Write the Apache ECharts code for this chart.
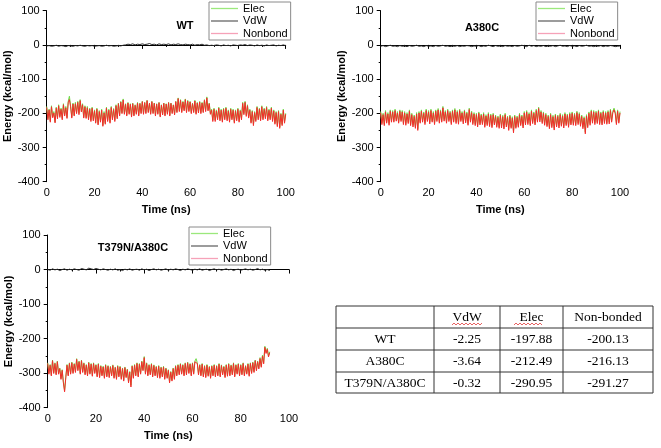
<!DOCTYPE html>
<html>
<head>
<meta charset="utf-8">
<script src="https://cdn.jsdelivr.net/npm/echarts@6/dist/echarts.min.js"></script>
<style>html,body{margin:0;padding:0;background:#fff}#c{width:661px;height:448px}</style>
</head>
<body>
<div id="c"></div>
<script>
// ---------- data ----------
var panelTitles = ['WT', 'A380C', 'T379N/A380C'];
var seriesNames = ['Elec', 'VdW', 'Nonbond'];
var xTicks = [0, 20, 40, 60, 80, 100];
var yTicks = [-400, -300, -200, -100, 0, 100];

// WT (Elec/Nonbond every 0.5 ns, VdW every 1 ns)
var wtElec = [
-180,-215,-188,-222,-178,-210,-195,-225,-182,-212,
-175,-208,-185,-215,-172,-205,-180,-212,-165,-150,
-178,-210,-170,-205,-168,-198,-165,-200,-160,-192,
-172,-210,-178,-212,-180,-215,-185,-220,-182,-218,
-190,-225,-185,-230,-192,-222,-188,-235,-195,-228,
-182,-220,-188,-225,-180,-215,-186,-220,-175,-212,
-170,-205,-165,-198,-158,-200,-172,-205,-168,-200,
-172,-208,-170,-205,-175,-200,-168,-205,-170,-198,
-165,-200,-168,-198,-162,-195,-170,-200,-165,-198,
-170,-205,-172,-200,-168,-208,-175,-202,-170,-205,
-172,-200,-168,-205,-170,-198,-175,-202,-165,-195,
-155,-192,-160,-195,-165,-190,-158,-195,-162,-192,
-165,-198,-170,-195,-162,-200,-168,-196,-165,-198,
-168,-195,-160,-192,-152,-190,-170,-200,-188,-220,
-185,-220,-190,-215,-182,-218,-188,-222,-185,-215,
-182,-218,-190,-222,-185,-215,-188,-225,-190,-218,
-185,-222,-190,-215,-168,-200,-165,-205,-175,-210,
-188,-225,-192,-232,-195,-220,-180,-215,-185,-218,
-178,-215,-185,-212,-180,-218,-188,-215,-182,-220,
-190,-228,-195,-235,-192,-240,-200,-232,-188,-225,
-200];
var wtNonbond = [
-183,-219,-190,-226,-181,-213,-199,-228,-185,-216,
-178,-212,-188,-219,-175,-208,-184,-215,-169,-160,
-181,-214,-173,-208,-172,-201,-168,-204,-163,-196,
-175,-214,-181,-215,-184,-219,-188,-224,-185,-222,
-193,-229,-188,-234,-195,-226,-191,-238,-199,-232,
-185,-224,-191,-229,-183,-219,-189,-224,-178,-216,
-172,-208,-167,-201,-161,-203,-174,-208,-170,-203,
-174,-211,-172,-208,-177,-203,-170,-208,-172,-201,
-166,-203,-169,-201,-163,-198,-171,-203,-166,-201,
-171,-208,-173,-203,-169,-211,-176,-205,-171,-208,
-173,-203,-169,-208,-171,-201,-176,-205,-166,-198,
-157,-195,-162,-198,-167,-193,-160,-198,-164,-195,
-167,-201,-172,-198,-164,-203,-170,-199,-167,-201,
-170,-198,-162,-195,-155,-193,-172,-203,-191,-224,
-188,-224,-193,-219,-185,-222,-191,-226,-188,-219,
-185,-222,-193,-226,-188,-219,-191,-229,-193,-222,
-188,-226,-193,-219,-171,-204,-168,-209,-178,-214,
-191,-229,-195,-236,-198,-224,-183,-219,-188,-222,
-181,-219,-188,-216,-183,-222,-191,-219,-185,-224,
-193,-232,-198,-239,-195,-244,-203,-236,-191,-229,
-203];
var wtVdw = [
-3,-2,-4,-3,-1,-4,-2,-3,-5,-2,
-3,-4,-2,-3,-1,-3,-4,-2,-3,-2,
-4,-3,-2,-4,-3,-1,-3,-2,-4,-3,
-2,-3,-1,0,2,1,3,0,2,1,
3,1,2,4,1,2,0,3,1,2,
1,3,0,2,1,3,1,0,2,1,
0,2,-1,1,0,2,-1,0,-2,-1,
-2,0,-1,-3,0,-2,-1,-3,0,-1,
-2,0,-1,1,-2,0,-1,-3,0,-2,
-1,-3,0,-2,-1,0,-3,-1,-2,0,
-2];

// A380C
var a380Elec = [
-195,-228,-200,-232,-192,-225,-198,-230,-190,-222,
-192,-222,-188,-218,-195,-225,-190,-220,-192,-228,
-195,-230,-198,-226,-190,-232,-200,-235,-205,-240,
-198,-245,-195,-225,-190,-222,-196,-228,-188,-220,
-192,-226,-188,-222,-195,-228,-190,-220,-186,-225,
-190,-222,-180,-218,-192,-225,-188,-220,-194,-228,
-190,-222,-186,-225,-192,-228,-188,-220,-195,-226,
-190,-224,-196,-230,-185,-222,-194,-228,-198,-232,
-200,-235,-196,-230,-202,-228,-198,-236,-204,-232,
-198,-234,-202,-238,-200,-230,-205,-236,-208,-240,
-202,-238,-206,-242,-200,-235,-208,-245,-205,-240,
-210,-252,-205,-240,-208,-236,-200,-232,-205,-238,
-195,-230,-192,-228,-198,-232,-190,-225,-196,-230,
-188,-222,-182,-220,-192,-226,-196,-230,-200,-235,
-205,-240,-200,-238,-206,-244,-202,-236,-205,-238,
-200,-234,-204,-238,-198,-232,-202,-236,-198,-230,
-196,-230,-200,-232,-194,-228,-198,-234,-205,-240,
-210,-255,-204,-238,-196,-230,-190,-225,-192,-228,
-194,-226,-190,-228,-196,-230,-192,-225,-195,-228,
-192,-226,-188,-222,-194,-185,-196,-228,-190,-225,
-195];
var a380Nonbond = [
-199,-233,-204,-236,-196,-229,-202,-235,-194,-226,
-196,-226,-192,-223,-199,-229,-194,-224,-196,-233,
-199,-235,-202,-230,-194,-236,-204,-240,-209,-244,
-202,-250,-199,-229,-194,-226,-200,-233,-192,-224,
-196,-231,-192,-226,-199,-233,-194,-224,-190,-229,
-194,-226,-184,-223,-196,-229,-192,-224,-198,-233,
-194,-226,-190,-230,-196,-232,-192,-224,-199,-231,
-194,-228,-200,-235,-189,-226,-198,-233,-202,-236,
-204,-240,-200,-234,-206,-233,-202,-241,-208,-236,
-202,-239,-206,-242,-204,-234,-209,-241,-212,-244,
-206,-243,-210,-246,-204,-240,-212,-250,-209,-244,
-214,-257,-209,-244,-212,-241,-204,-236,-209,-243,
-199,-234,-196,-233,-202,-236,-194,-230,-200,-234,
-192,-226,-186,-225,-196,-230,-200,-235,-204,-239,
-209,-245,-204,-242,-210,-249,-206,-240,-209,-243,
-204,-238,-208,-243,-202,-236,-206,-241,-202,-234,
-200,-235,-204,-236,-198,-233,-202,-238,-209,-245,
-214,-260,-208,-242,-200,-235,-194,-229,-196,-233,
-198,-230,-194,-233,-200,-234,-196,-230,-199,-232,
-196,-231,-192,-226,-198,-190,-200,-233,-194,-229,
-199];
var a380Vdw = [
-4,-2,-5,-3,-1,-4,-3,-5,-2,-4,
-3,-5,-2,-4,-3,-1,-4,-3,-5,-2,
-4,-3,-5,-2,-4,-3,-1,-4,-3,-5,
-3,-4,-2,-5,-3,-4,-2,-3,-5,-3,
-4,-2,-5,-3,-4,-1,-3,-5,-2,-4,
-3,-5,-2,-4,-3,-5,-2,-4,-3,-1,
-3,-5,-1,-4,-2,-5,-3,-4,-2,-5,
-3,-4,-2,-5,-3,-1,-4,-3,-5,-2,
-4,-3,-5,-2,-4,-3,-1,-4,-3,-5,
-3,-4,-2,-5,-3,-4,-2,-3,-5,-4,
-3];

// T379N/A380C (to ~92 ns)
var dmElec = [
-270,-300,-275,-305,-262,-298,-270,-302,-265,-300,
-285,-315,-290,-325,-350,-310,-275,-305,-270,-300,
-268,-298,-272,-295,-258,-290,-265,-300,-262,-295,
-270,-302,-275,-305,-268,-300,-272,-306,-270,-298,
-275,-308,-272,-310,-278,-305,-280,-312,-275,-308,
-278,-310,-280,-305,-276,-312,-282,-315,-278,-308,
-280,-315,-285,-320,-282,-310,-288,-325,-295,-335,
-278,-312,-275,-305,-270,-308,-272,-300,-265,-290,
-252,-300,-270,-305,-275,-302,-272,-308,-276,-305,
-280,-310,-278,-312,-282,-308,-280,-315,-285,-312,
-290,-325,-295,-320,-285,-315,-278,-305,-275,-302,
-272,-300,-275,-305,-270,-302,-268,-298,-272,-305,
-270,-300,-265,-258,-270,-302,-275,-305,-272,-308,
-278,-310,-275,-306,-280,-312,-278,-305,-275,-308,
-278,-305,-272,-308,-276,-302,-280,-310,-275,-306,
-272,-305,-276,-302,-270,-308,-275,-300,-272,-305,
-275,-302,-270,-305,-278,-300,-272,-306,-270,-298,
-268,-295,-262,-290,-265,-285,-255,-280,-248,-270,
-222,-240,-228,-250,-238];
var dmNonbond = [
-272,-303,-277,-308,-264,-301,-272,-305,-267,-303,
-287,-318,-292,-328,-354,-313,-277,-308,-272,-303,
-270,-301,-274,-298,-260,-293,-267,-303,-264,-298,
-272,-305,-277,-308,-270,-303,-274,-309,-272,-301,
-277,-311,-274,-313,-280,-308,-282,-315,-277,-311,
-280,-313,-282,-308,-278,-315,-284,-318,-280,-311,
-282,-318,-287,-323,-284,-313,-290,-328,-297,-340,
-280,-315,-277,-308,-272,-311,-274,-303,-267,-293,
-255,-303,-272,-308,-277,-305,-274,-311,-278,-308,
-282,-313,-280,-315,-284,-311,-282,-318,-287,-315,
-292,-328,-297,-323,-287,-318,-280,-308,-277,-305,
-274,-303,-277,-308,-272,-305,-270,-301,-274,-308,
-272,-303,-267,-262,-272,-305,-277,-308,-274,-311,
-280,-313,-277,-309,-282,-315,-280,-308,-277,-311,
-280,-308,-274,-311,-278,-305,-282,-313,-277,-309,
-274,-308,-278,-305,-272,-311,-277,-303,-274,-308,
-277,-305,-272,-308,-280,-303,-274,-309,-272,-301,
-270,-298,-264,-293,-267,-288,-258,-283,-251,-273,
-225,-243,-231,-253,-241];
var dmVdw = [
0,-2,2,-1,1,-3,0,2,-2,1,
-1,2,0,-2,3,1,-1,4,2,0,
3,1,-1,2,0,-2,1,-1,2,-2,
0,-3,1,-1,2,-2,0,1,-2,2,
-1,1,-3,0,2,-1,1,-2,0,2,
-2,1,-1,2,0,-3,1,-1,2,0,
-2,1,-1,2,-2,0,1,-3,0,2,
-1,1,-2,0,2,-1,1,-3,0,1,
-2,0,2,-1,1,-2,0,3,-1,1,
-2,0,-3];

// table
var tableHeader = ['', 'VdW', 'Elec', 'Non-bonded'];
var tableRowNames = ['WT', 'A380C', 'T379N/A380C'];
var tableVdw = ['-2.25', '-3.64', '-0.32'];
var tableElec = ['-197.88', '-212.49', '-290.95'];
var tableNonbond = ['-200.13', '-216.13', '-291.27'];

// ---------- build ----------
function pairs(vals, step) {
  return vals.map(function (v, i) { return [i * step, v]; });
}
var panelData = [
  [wtElec, wtVdw, wtNonbond],
  [a380Elec, a380Vdw, a380Nonbond],
  [dmElec, dmVdw, dmNonbond]
];
var steps = [0.5, 1, 0.5];
var lineColors = ['#6fdc4a', '#2a2a2a', '#f42a2a'];
var legendColors = ['#9be87c', '#666666', '#f6a2b8'];

var grids = [
  {left: 46.7, top: 10.7, width: 239, height: 171},
  {left: 380.7, top: 10.7, width: 239.3, height: 171},
  {left: 47.7, top: 235, width: 241.3, height: 172.7}
];
var legendPos = [
  {left: 209, top: 2},
  {left: 536, top: 2},
  {left: 189, top: 227}
];
var titlePos = [
  {left: 180, top: 15},
  {left: 477, top: 17},
  {left: 128, top: 237}
];

var FONT = 'Liberation Sans, Arial, sans-serif';
var xAxes = [], yAxes = [], series = [], legends = [], titles = [];
grids.forEach(function (g, i) {
  xAxes.push({
    type: 'value', gridIndex: i, min: 0, max: 100, interval: 20,
    name: 'Time (ns)', nameLocation: 'middle', nameGap: 23,
    nameTextStyle: {fontFamily: FONT, fontWeight: 'bold', fontSize: 11, color: '#000'},
    axisLine: {lineStyle: {color: '#000', width: 1}},
    axisTick: {show: true, length: 4, lineStyle: {color: '#000'}},
    minorTick: {show: true, splitNumber: 2, length: 2, lineStyle: {color: '#000'}},
    axisLabel: {fontFamily: FONT, fontSize: 11, color: '#000', margin: 6},
    splitLine: {show: false}
  });
  yAxes.push({
    type: 'value', gridIndex: i, min: -400, max: 100, interval: 100,
    name: 'Energy (kcal/mol)', nameLocation: 'middle', nameGap: 33,
    nameTextStyle: {fontFamily: FONT, fontWeight: 'bold', fontSize: 11, color: '#000'},
    axisLine: {show: true, lineStyle: {color: '#000', width: 1}},
    axisTick: {show: true, length: 4, lineStyle: {color: '#000'}},
    minorTick: {show: true, splitNumber: 2, length: 2, lineStyle: {color: '#000'}},
    axisLabel: {fontFamily: FONT, fontSize: 11, color: '#000', margin: 7},
    splitLine: {show: false}
  });
  seriesNames.forEach(function (nm, k) {
    series.push({
      type: 'line', name: nm, xAxisIndex: i, yAxisIndex: i,
      data: pairs(panelData[i][k], steps[k]),
      symbol: 'none', showSymbol: false, smooth: false, z: 2 + k,
      lineStyle: {color: lineColors[k], width: 1},
      itemStyle: {color: lineColors[k]}
    });
  });
  legends.push({
    left: legendPos[i].left, top: legendPos[i].top, orient: 'vertical',
    padding: [1, 3, 1, 2], itemGap: 1.5, itemWidth: 27, itemHeight: 1.3,
    icon: 'rect',
    borderColor: '#8a8a8a', borderWidth: 1, backgroundColor: '#fff',
    selectedMode: false,
    textStyle: {fontFamily: FONT, fontSize: 11, lineHeight: 11, color: '#000'},
    data: seriesNames.map(function (nm, k) {
      return {name: nm, icon: 'rect', itemStyle: {color: legendColors[k], borderWidth: 0}};
    })
  });
  titles.push({
    text: panelTitles[i], left: titlePos[i].left, top: titlePos[i].top, textAlign: 'center',
    textStyle: {fontFamily: FONT, fontWeight: 'bold', fontSize: 11, color: '#000'}
  });
});

// table graphics
var colX = [336, 434, 500, 563, 653];
var rowY = [306, 328, 350, 372, 393];
var graphics = [];
var lineStyleT = {stroke: '#333', lineWidth: 1};
colX.forEach(function (x) {
  graphics.push({type: 'line', shape: {x1: x, y1: rowY[0], x2: x, y2: rowY[rowY.length - 1]}, style: lineStyleT});
});
rowY.forEach(function (y) {
  graphics.push({type: 'line', shape: {x1: colX[0], y1: y, x2: colX[colX.length - 1], y2: y}, style: lineStyleT});
});
var tableRows = [tableHeader].concat(tableRowNames.map(function (r, j) {
  return [r, tableVdw[j], tableElec[j], tableNonbond[j]];
}));
tableRows.forEach(function (row, r) {
  row.forEach(function (txt, c) {
    if (!txt) return;
    graphics.push({
      type: 'text',
      x: (colX[c] + colX[c + 1]) / 2, y: (rowY[r] + rowY[r + 1]) / 2 + 0.5,
      style: {text: txt, fill: '#000', font: '13.5px "Liberation Serif", "Times New Roman", serif',
              textAlign: 'center', textVerticalAlign: 'middle'}
    });
  });
});
// red wavy spell-check underline under header words
[[452, 482], [514, 543]].forEach(function (seg) {
  var pts = [];
  for (var x = seg[0], s = 0; x <= seg[1]; x += 2, s++) pts.push([x, 324 + (s % 2 ? -1 : 1)]);
  graphics.push({type: 'polyline', shape: {points: pts}, style: {stroke: '#e03a3a', lineWidth: 0.8, fill: null}});
});

var chart = echarts.init(document.getElementById('c'));
chart.setOption({
  animation: false,
  backgroundColor: '#fff',
  title: titles,
  grid: grids,
  xAxis: xAxes,
  yAxis: yAxes,
  legend: legends,
  series: series,
  graphic: graphics
});
</script>
</body>
</html>
